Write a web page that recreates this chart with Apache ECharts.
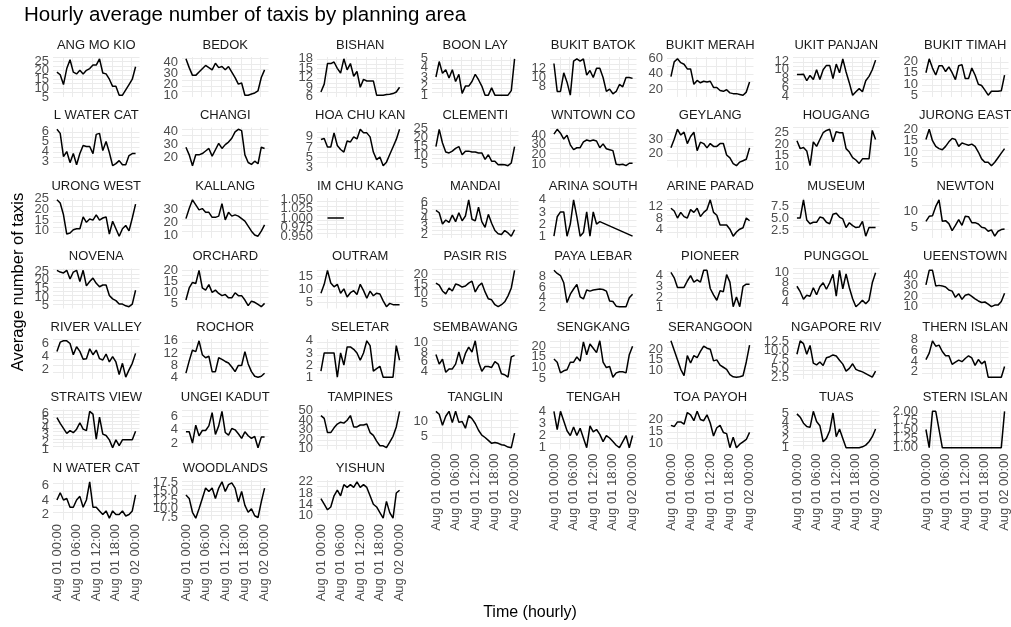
<!DOCTYPE html>
<html>
<head>
<meta charset="utf-8">
<script src="https://cdn.jsdelivr.net/npm/echarts@6/dist/echarts.min.js"></script>
<style>
  html, body { margin: 0; padding: 0; background: #fff; }
  #chart { width: 1011px; height: 627px; }
</style>
</head>
<body>
<div id="chart"></div>
<script>
// hourly x values and their tick labels
const hours = [0, 1, 2, 3, 4, 5, 6, 7, 8, 9, 10, 11, 12, 13, 14, 15, 16, 17, 18, 19, 20, 21, 22, 23, 24];
const xTicks = [0, 6, 12, 18, 24];
const xTickLabels = ['Aug 01 00:00', 'Aug 01 06:00', 'Aug 01 12:00', 'Aug 01 18:00', 'Aug 02 00:00'];

const areas = [
  'ANG MO KIO', 'BEDOK', 'BISHAN', 'BOON LAY', 'BUKIT BATOK', 'BUKIT MERAH', 'BUKIT PANJANG', 'BUKIT TIMAH',
  'CENTRAL WATER CATCHMENT', 'CHANGI', 'CHOA CHU KANG', 'CLEMENTI', 'DOWNTOWN CORE', 'GEYLANG', 'HOUGANG', 'JURONG EAST',
  'JURONG WEST', 'KALLANG', 'LIM CHU KANG', 'MANDAI', 'MARINA SOUTH', 'MARINE PARADE', 'MUSEUM', 'NEWTON',
  'NOVENA', 'ORCHARD', 'OUTRAM', 'PASIR RIS', 'PAYA LEBAR', 'PIONEER', 'PUNGGOL', 'QUEENSTOWN',
  'RIVER VALLEY', 'ROCHOR', 'SELETAR', 'SEMBAWANG', 'SENGKANG', 'SERANGOON', 'SINGAPORE RIVER', 'SOUTHERN ISLANDS',
  'STRAITS VIEW', 'SUNGEI KADUT', 'TAMPINES', 'TANGLIN', 'TENGAH', 'TOA PAYOH', 'TUAS', 'WESTERN ISLANDS',
  'WESTERN WATER CATCHMENT', 'WOODLANDS', 'YISHUN'
];

// average taxis per hour, one array per planning area
const angMoKio = [19, 17.5, 12, 21, 26, 19, 18, 20, 18, 20, 21, 23, 23, 26.5, 18.5, 18, 15, 11, 11, 6, 6, 9, 12, 15, 22];
const bedok = [43, 35, 28, 28, 31, 34, 37, 35, 33, 39, 35, 36, 33, 36, 31, 26, 20, 21, 10, 10, 11, 12, 14, 26, 33];
const bishan = [7.5, 10, 16.5, 16.5, 17, 15, 13.5, 18, 14.5, 16.5, 12.5, 14, 9, 11.5, 11, 11, 11, 6.5, 6.5, 6.5, 6.7, 6.8, 7, 7.5, 9];
const boonLay = [3, 4.7, 3.4, 3.8, 2.9, 3.8, 2.5, 3.3, 1.2, 2, 2, 2.5, 3.3, 2.7, 2, 1, 1, 1.8, 1, 1, 1, 1, 1, 1.5, 5];
const bukitBatok = [13, 7, 7, 11, 9, 6.2, 13.5, 14, 13.5, 14, 10.5, 11.5, 10, 12, 12, 10, 7, 7.5, 6.5, 7, 8.5, 8, 10, 10, 9.8];
const bukitMerah = [36, 55, 59, 54, 52, 46, 46, 26, 31, 28, 30, 29, 30, 22, 22, 18, 17, 19, 15, 14, 14, 13, 12, 16, 29];
const bukitPanjang = [8.9, 8.9, 9, 7.5, 8.7, 7.8, 10, 7.8, 10, 11, 11, 8, 11.3, 9.3, 12.5, 9.5, 7, 4.2, 5, 5.7, 5, 7.5, 8.5, 10, 12.2];
const bukitTimah = [15, 21, 17, 14, 18, 18, 15.5, 17.5, 15, 12, 18, 18.5, 12.5, 12.5, 17, 14, 10, 9.5, 7.5, 5.3, 7, 7, 7, 7.2, 14];
const centralWaterCatchment = [6.2, 5.8, 3.5, 4, 2.9, 3.8, 2.7, 3.8, 4.6, 4.5, 4.5, 3.8, 5.7, 5.8, 4.1, 5, 3.9, 2.6, 2.8, 3.1, 2.7, 2.7, 3.6, 3.8, 3.8];
const changi = [28, 22, 13.5, 22, 22, 23, 25, 27, 21, 26, 31, 27, 30, 32, 35, 40, 42, 41, 22, 16, 14.5, 17, 15, 28, 27];
const choaChuKang = [8.5, 8.7, 7, 7, 9.8, 7.3, 6.5, 6, 8.2, 8, 9, 8.6, 10.5, 9.8, 9.8, 9, 6, 4.5, 5, 3.3, 4, 5.5, 7, 8.5, 10.5];
const clementi = [15, 24.5, 17, 12, 11.5, 12.5, 14, 15, 10.5, 12.5, 12.5, 12, 12, 11.5, 11.5, 8, 10.5, 7, 7, 5, 5.2, 5, 4.5, 6, 15];
const downtownCore = [41, 46, 42, 36, 40, 30, 25, 27, 27, 33, 35, 34, 35, 34, 27, 31, 26, 25, 24, 10, 9.5, 10, 8.5, 11, 11];
const geylang = [24, 30, 37, 33, 35, 27, 32, 35, 22, 28, 27, 24, 27, 25, 25, 27, 27, 19, 17, 13, 11.5, 14, 15, 16, 24];
const hougang = [21.5, 18, 18.5, 17, 10.5, 21, 19, 22, 25, 26, 26.5, 21, 25.5, 25, 25, 18, 16.5, 14, 13, 11.5, 13.5, 13.5, 13.5, 26, 22];
const jurongEast = [15.5, 20, 15, 12.5, 11.5, 11, 12.5, 14.5, 16, 15.5, 12.5, 14, 13.5, 13, 13.5, 12.5, 10, 7, 5.5, 5.5, 4, 5.5, 7.5, 9.5, 11.5];
const jurongWest = [24.5, 23, 17.5, 8.5, 9, 10.5, 11, 11, 16.5, 14, 15.5, 15, 17.5, 15, 16, 16.5, 8.5, 14.5, 11, 7.5, 11, 12.5, 10, 16, 22.5];
const kallang = [23, 31, 38, 34, 30, 31, 28, 28, 24, 24, 25, 35, 22, 28, 25, 26, 25, 23, 21, 17, 13, 10, 9, 13, 18];
const limChuKang = [null, null, 1, 1, 1, 1, 1, 1, null, null, null, null, null, null, null, null, null, null, null, null, null, null, null, null, null];
const mandai = [5, 4.7, 3.3, 3.8, 3.5, 4.4, 3.6, 4.7, 3.7, 4.3, 6.3, 3.9, 3.7, 5.4, 3.6, 2.9, 4.5, 3.4, 2.5, 2.1, 2, 2.5, 2.2, 1.8, 2.6];
const marinaSouth = [1, 2.6, 3, 3, 1, 2, 4, 2.6, 1, 1.3, 3, 1, 3, 2, 2.2, null, null, null, null, null, null, null, null, null, 1];
const marineParade = [11.5, 10.5, 8, 10, 8.5, 8, 11, 10, 11.5, 8.5, 10, 11, 14.5, 10, 9, 5.5, 5.5, 5.5, 4, 1.5, 3, 4, 4.5, 8, 7];
const museum = [5, 5, 8.8, 4.6, 3.8, 4.1, 4.1, 5.2, 5, 4.1, 3.8, 5.8, 6, 5.2, 4.8, 3, 4, 3.4, 3, 3.1, 4.3, 1.2, 3, 3, 3];
const newton = [7, 8.5, 8.7, 11.5, 13.5, 7, 7.2, 6.3, 4.2, 5.8, 7.5, 5.8, 8.5, 8.4, 6.6, 6.6, 6.2, 5.2, 5, 4, 4.4, 2.5, 4, 4.5, 4.7];
const novena = [25.5, 24.5, 24, 25.5, 20.5, 24.5, 25.5, 19, 25.5, 16.5, 19, 21, 18, 16, 17, 17, 11, 9, 8, 6, 6, 5, 4.5, 6, 14];
const orchard = [6.5, 12, 14.5, 14, 20, 12, 11, 13.5, 10, 11, 9.5, 8.5, 9, 7.5, 7.5, 9.8, 8.5, 8.5, 6.5, 4, 6, 5.5, 4.5, 3.5, 5];
const outram = [8.5, 12, 17.5, 12.5, 11, 12, 8.5, 10.2, 7, 8.7, 9.5, 8, 12, 9.5, 6.5, 9.3, 7.5, 8.5, 8.2, 5.5, 3.2, 4.5, 4, 4, 4];
const pasirRis = [15.5, 14.5, 11.5, 10, 13, 11.5, 15, 14.5, 13.5, 14, 15.5, 16.5, 11, 14, 15.5, 11, 7.5, 7, 4.5, 3.5, 4.5, 6, 9, 13, 22];
const payaLebar = [9.2, 8.6, 8.2, 6.8, 3, 4.6, 5.6, 6.5, 4.1, 3.7, 5.4, 5.2, 5.4, 5.5, 5.6, 5.5, 5.2, 3.3, 3.2, 2.3, 2.2, 2.2, 2.2, 3.9, 4.6];
const pioneer = [4.3, 3.8, 2.9, 2.9, 2.9, 3.5, 4, 3.4, 3.6, 3.4, 4.5, 4.5, 2.8, 2.2, 1.7, 2.6, 2.5, 4.1, 3.4, 1.1, 2, 1.1, 3, 3.2, 3.2];
const punggol = [7.3, 6.2, 4.7, 5.5, 5.3, 7, 5.6, 7.2, 8, 6.7, 8, 9.7, 5.3, 10.5, 6.8, 9.8, 7, 4.8, 3.2, 3.8, 4.5, 3.8, 4.5, 8, 10];
const queenstown = [31, 45, 45, 30, 30.5, 30, 29, 26, 25, 19, 22.5, 17, 21, 22, 20, 17.5, 15.5, 14, 14.5, 12.5, 10, 11.5, 11.5, 15, 23];
const riverValley = [4.8, 6.2, 6.4, 6.4, 6, 4.3, 5.5, 4.8, 3.6, 3.7, 5.2, 4.3, 5, 3.7, 3.5, 4.4, 3.2, 4, 3.2, 1.3, 3, 0.9, 2, 3, 4.5];
const rochor = [5.5, 9.5, 13, 12.5, 16, 11.5, 10.5, 11, 6, 6, 10.5, 10, 9.3, 8.8, 7.5, 6, 8, 8, 12.5, 8.5, 6, 4.5, 4.2, 4.5, 5.5];
const seletar = [1.5, 3, 3, 3, 3, 1, 3, 2, 3.5, 3.5, 3.3, 3, 2.4, 3, 4, 3.6, 1.5, 1.7, 1.9, 1, 1, 1, 1, 3.6, 2.4];
const sembawang = [7.5, 5.5, 6.5, 3.8, 4.5, 4.5, 5.5, 8, 5.5, 7.7, 9, 8, 10.3, 6, 4, 5, 5, 4.8, 6, 5.5, 3.5, 3.3, 2.8, 7, 7.3];
const sengkang = [14, 12.5, 7.5, 8.5, 9, 12.5, 12.5, 15, 13, 22, 16, 21, 19, 17, 22.5, 12.5, 10, 10.5, 5.5, 7.5, 8, 8, 7.5, 16, 20];
const serangoon = [24, 19.5, 15, 10.5, 7.5, 17, 13.5, 17, 16, 19, 21.5, 20.5, 20, 14.5, 15, 12.5, 11.5, 10.5, 8, 7, 6.8, 7, 7.5, 14, 22];
const singaporeRiver = [9, 12.8, 12, 9, 11.5, 6.5, 6, 6.8, 5.8, 8, 8.3, 8.8, 8.5, 7.3, 6.2, 4.2, 5, 6.3, 4.7, 4.3, 4, 3.5, 3, 2.5, 4.2];
const southernIslands = [4.3, 5.5, 7.8, 6.8, 7, 5.8, 5, 5, 3.4, 3.8, 4.2, 3.9, 4.5, 5, 4.6, 3.2, 4.3, 3.5, 4, 1, 1, 1, 1, 1, 3];
const straitsView = [5.4, 4.6, 3.9, 3.2, 3.6, 3.3, 3.8, 4.7, 3.8, 3.6, 6.3, 5.9, 2.4, 5.5, 3.1, 2.9, 2.3, 1.2, 2.3, 1.5, 2.3, 2.3, 2.3, 2.3, 3.5];
const sungeiKadut = [3.7, 3.7, 2, 4.7, 3.1, 3.9, 3.9, 4.6, 6.6, 3.3, 4.6, 6.8, 3.6, 3.2, 4.2, 4, 3.4, 2.7, 3.7, 3.1, 2.7, 3, 1.3, 2.9, 2.9];
const tampines = [45, 42, 27, 27, 32, 36, 38, 37, 40, 45, 33, 33, 35, 35, 36, 27, 24, 18, 13, 13, 11, 17, 23, 33, 49.5];
const tanglin = [13.5, 12.5, 8.7, 11.8, 13.5, 9.6, 13.5, 9.7, 10, 7.7, 12, 11, 9.3, 7, 5.3, 4.5, 3.5, 2.5, 2.8, 2.5, 2, 1.8, 1.2, 1, 6];
const tengah = [4, 2.5, 4, 3.2, 2.4, 2, 2.7, 2, 2.6, 1.8, 1, 2.8, 2.3, 2.5, 2.1, 1.5, 2, 1.8, 1.5, 1.2, 1, 1.5, 2, 1, 2];
const toaPayoh = [17.5, 17, 19, 19, 18, 23, 22, 19.5, 23.5, 20, 19.5, 22, 18.5, 13, 16.5, 17.5, 14.5, 14, 8, 12.5, 8, 9.5, 10.5, 11.5, 14.5];
const tuas = [5, 4.6, 3.9, 3.5, 3.4, 5.3, 4.1, 3.6, 1.7, 2.1, 3, 5.1, 2.3, 3.2, 2.1, 1, 1, 1, 1, 1, 1.1, 1.3, 1.7, 2.3, 3.2];
const westernIslands = [1.5, 1, 2, 2, null, 1, 1, 1, 1, 1, 1, 1, 1, 1, 1, 1, 1, 1, 1, 1, 1, 1, 1, 1, 2];
const westernWaterCatchment = [4, 5, 4, 4.2, 3, 3, 4, 4.5, 3, 4, 6.5, 3, 3, 2.5, 2, 2.5, 1.5, 2.5, 2, 2, 2.5, 1.8, 2, 2.5, 4.7];
const woodlands = [14, 13, 9, 7.3, 10, 13, 16, 15, 16, 13, 16, 17.8, 15, 17, 17.5, 16, 12, 15, 11, 9, 10, 8, 7.5, 12, 16];
const yishun = [16, 14, 12, 13, 17, 19, 17, 21, 20, 21, 20, 22, 20, 21, 20, 17, 14, 13, 11, 9, 15, 11, 9, 18, 19];

const taxiCounts = [
  angMoKio, bedok, bishan, boonLay, bukitBatok, bukitMerah, bukitPanjang, bukitTimah,
  centralWaterCatchment, changi, choaChuKang, clementi, downtownCore, geylang, hougang, jurongEast,
  jurongWest, kallang, limChuKang, mandai, marinaSouth, marineParade, museum, newton,
  novena, orchard, outram, pasirRis, payaLebar, pioneer, punggol, queenstown,
  riverValley, rochor, seletar, sembawang, sengkang, serangoon, singaporeRiver, southernIslands,
  straitsView, sungeiKadut, tampines, tanglin, tengah, toaPayoh, tuas, westernIslands,
  westernWaterCatchment, woodlands, yishun
];

// y tick labels shown on each panel
const yTicks = [
  [5, 10, 15, 20, 25], [10, 20, 30, 40], [6, 9, 12, 15, 18], [1, 2, 3, 4, 5], [8, 10, 12], [20, 40, 60], [4, 6, 8, 10, 12], [5, 10, 15, 20],
  [3, 4, 5, 6], [20, 30, 40], [3, 5, 7, 9], [5, 10, 15, 20, 25], [10, 20, 30, 40], [20, 30], [10, 15, 20, 25], [5, 10, 15, 20],
  [10, 15, 20, 25], [10, 20, 30], [0.95, 0.975, 1, 1.025, 1.05], [2, 3, 4, 5, 6], [1, 2, 3, 4], [4, 8, 12], [2.5, 5, 7.5], [5, 10],
  [5, 10, 15, 20, 25], [5, 10, 15, 20], [5, 10, 15], [5, 10, 15, 20], [2, 4, 6, 8], [1, 2, 3, 4], [4, 6, 8, 10], [10, 20, 30, 40],
  [2, 4, 6], [4, 8, 12, 16], [1, 2, 3, 4], [4, 6, 8, 10], [5, 10, 15, 20], [10, 15, 20], [2.5, 5, 7.5, 10, 12.5], [2, 4, 6, 8],
  [1, 2, 3, 4, 5, 6], [2, 4, 6], [10, 20, 30, 40, 50], [5, 10], [1, 2, 3, 4], [10, 15, 20], [1, 2, 3, 4, 5], [1, 1.25, 1.5, 1.75, 2],
  [2, 4, 6], [7.5, 10, 12.5, 15, 17.5], [10, 14, 18, 22]
];

const FONT = '"Liberation Sans", Arial, sans-serif';
const colLeft = [53, 182, 317, 432, 550, 667, 793, 922];
const rowTop = [57, 127.5, 198, 268.5, 339, 409.5, 480];
const panelW = 86.5, panelH = 40;
const gridColor = '#EBEBEB';
const smallSize = 13;

const measure = document.createElement('canvas').getContext('2d');
measure.font = smallSize + 'px ' + FONT;

// strip labels are clipped to the panel width, keeping the centre part
function clipStrip(name, w) {
  let s = name;
  let fromLeft = true;
  while (measure.measureText(s).width > w && s.length > 1) {
    s = fromLeft ? s.slice(1) : s.slice(0, -1);
    fromLeft = !fromLeft;
  }
  return s;
}

function decimalsOf(ticks) {
  let d = 0;
  ticks.forEach(t => {
    const parts = String(t).split('.');
    if (parts[1]) d = Math.max(d, parts[1].length);
  });
  return d;
}

const labelStyle = { color: '#4D4D4D', fontSize: smallSize, fontFamily: FONT };
const grids = [], xAxes = [], yAxes = [], series = [], texts = [];

areas.forEach((name, i) => {
  const row = Math.floor(i / 8), col = i % 8;
  const left = colLeft[col], top = rowTop[row];
  const isBottom = i + 8 >= areas.length;
  const values = taxiCounts[i];
  const ticks = yTicks[i];
  const step = ticks[1] - ticks[0];
  const dec = decimalsOf(ticks);

  const present = values.filter(v => v !== null);
  let lo = Math.min(...present), hi = Math.max(...present);
  if (lo === hi) { lo = lo * 0.95; hi = hi * 1.05; }
  const pad = (hi - lo) * 0.05;
  const yMin = lo - pad, yMax = hi + pad;

  grids.push({ left: left, top: top, width: panelW, height: panelH, outerBoundsMode: 'none' });

  // x axis: grid every 3 h, labels every 6 h on the bottom panel of each column
  const xMain = xAxes.length;
  xAxes.push({
    type: 'value', gridIndex: i, min: -1.2, max: 25.2, interval: 3,
    axisLine: { show: false }, axisTick: { show: false },
    axisLabel: { show: false },
    splitLine: { show: true, showMinLine: false, showMaxLine: false, lineStyle: { color: gridColor, width: 1 } }
  });
  if (isBottom) {
    // one axis per label so none of them get dropped for overlapping
    xTicks.forEach((t, k) => {
      xAxes.push({
        type: 'value', gridIndex: i, min: -1.2, max: 25.2, position: 'bottom', offset: 0,
        axisLine: { show: false }, axisTick: { show: false }, splitLine: { show: false },
        axisLabel: Object.assign({ customValues: [t], rotate: 90, margin: 4, formatter: () => xTickLabels[k] }, labelStyle)
      });
    });
  }

  const yMain = yAxes.length;
  yAxes.push({
    type: 'value', gridIndex: i, min: yMin, max: yMax, interval: step / 2,
    axisLine: { show: false }, axisTick: { show: false },
    axisLabel: { show: false },
    splitLine: { show: true, showMinLine: false, showMaxLine: false, lineStyle: { color: gridColor, width: 1 } }
  });
  // ggplot prints every break even when they collide, so each gets its own axis
  ticks.forEach(t => {
    yAxes.push({
      type: 'value', gridIndex: i, min: yMin, max: yMax, position: 'left', offset: 0,
      axisLine: { show: false }, axisTick: { show: false }, splitLine: { show: false },
      axisLabel: Object.assign({ customValues: [t], margin: 4, formatter: v => v.toFixed(dec) }, labelStyle)
    });
  });

  series.push({
    type: 'line', xAxisIndex: xMain, yAxisIndex: yMain,
    data: hours.map((h, k) => [h, values[k]]),
    showSymbol: false, connectNulls: true, silent: true,
    lineStyle: { color: '#000', width: 1.5 }
  });

  texts.push({
    type: 'text', x: left + panelW / 2, y: top - 12,
    style: {
      text: clipStrip(name, panelW + 6), align: 'center', verticalAlign: 'middle',
      fill: '#1A1A1A', font: smallSize + 'px ' + FONT
    }
  });
});

texts.push({
  type: 'text', x: 24, y: 15,
  style: { text: 'Hourly average number of taxis by planning area', verticalAlign: 'middle', fill: '#000', font: '20.5px ' + FONT }
});
texts.push({
  type: 'text', x: 18, y: 282, rotation: Math.PI / 2,
  style: { text: 'Average number of taxis', align: 'center', verticalAlign: 'middle', fill: '#000', font: '16.5px ' + FONT }
});
texts.push({
  type: 'text', x: 530, y: 613,
  style: { text: 'Time (hourly)', align: 'center', verticalAlign: 'middle', fill: '#000', font: '16px ' + FONT }
});

const chart = echarts.init(document.getElementById('chart'), null, { renderer: 'canvas' });
chart.setOption({
  animation: false,
  backgroundColor: '#fff',
  grid: grids,
  xAxis: xAxes,
  yAxis: yAxes,
  series: series,
  graphic: texts
});
</script>
</body>
</html>
